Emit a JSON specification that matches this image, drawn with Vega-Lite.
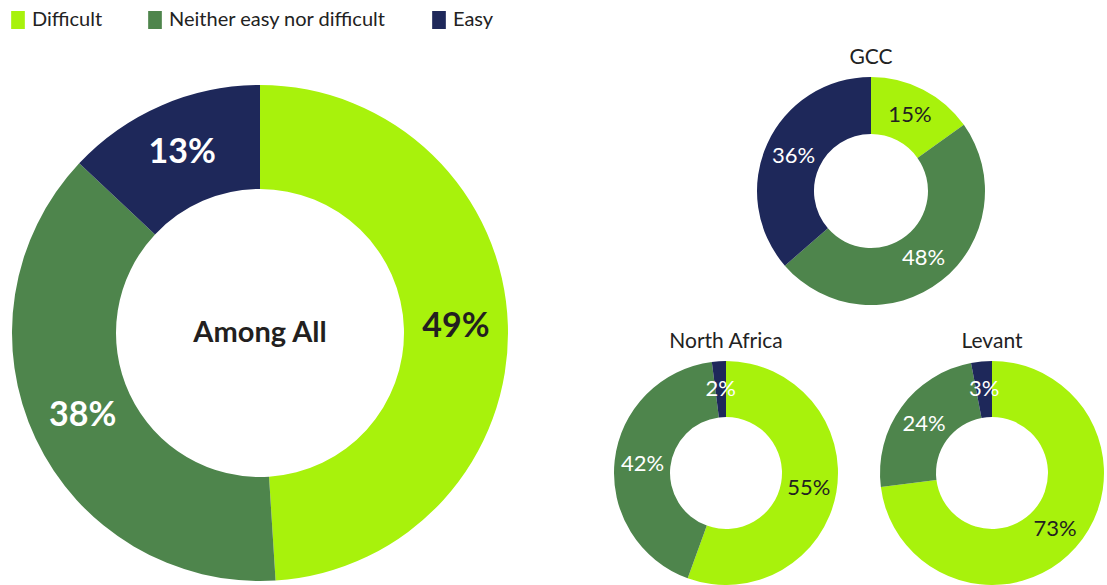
{
  "$schema": "https://vega.github.io/schema/vega-lite/v6.json",
  "padding": {"top": 10, "left": 0, "right": 0, "bottom": 0},
  "background": "white",
  "datasets": {
    "d": [
      {"region": "Among All", "cat": "Difficult", "k": 1, "v": 0.49},
      {"region": "Among All", "cat": "Neither easy nor difficult", "k": 2, "v": 0.38},
      {"region": "Among All", "cat": "Easy", "k": 3, "v": 0.13},
      {"region": "GCC", "cat": "Difficult", "k": 1, "v": 0.15},
      {"region": "GCC", "cat": "Neither easy nor difficult", "k": 2, "v": 0.48},
      {"region": "GCC", "cat": "Easy", "k": 3, "v": 0.36},
      {"region": "North Africa", "cat": "Difficult", "k": 1, "v": 0.55},
      {"region": "North Africa", "cat": "Neither easy nor difficult", "k": 2, "v": 0.42},
      {"region": "North Africa", "cat": "Easy", "k": 3, "v": 0.02},
      {"region": "Levant", "cat": "Difficult", "k": 1, "v": 0.73},
      {"region": "Levant", "cat": "Neither easy nor difficult", "k": 2, "v": 0.24},
      {"region": "Levant", "cat": "Easy", "k": 3, "v": 0.03}
    ]
  },
  "config": {
    "view": {"stroke": null},
    "font": "Lato",
    "title": {"fontSize": 21, "fontWeight": "normal", "color": "#222222", "offset": 9, "anchor": "middle", "font": "Lato"}
  },
  "bounds": "flush",
  "spacing": 115,
  "resolve": {"scale": {"theta": "independent", "color": "shared"}},
  "hconcat": [
    {
      "width": 520,
      "height": 504,
      "data": {"name": "d"},
      "transform": [{"filter": "datum.region === 'Among All'"}],
      "resolve": {"scale": {"theta": "shared"}},
      "layer": [
        {
          "mark": {"type": "arc", "outerRadius": 248, "innerRadius": 144},
          "encoding": {
            "theta": {"field": "v", "type": "quantitative", "stack": true},
            "order": {"field": "k", "type": "ordinal"},
            "color": {
              "field": "cat", "type": "nominal",
              "scale": {"domain": ["Difficult", "Neither easy nor difficult", "Easy"], "range": ["#A8F20C", "#4E854C", "#1E285A"]},
              "legend": {"title": null, "orient": "none", "legendX": 8, "legendY": -71, "direction": "horizontal", "symbolType": "M-0.76,-1H0.76V1H-0.76Z", "symbolSize": 324, "symbolStrokeWidth": 0, "labelFontSize": 20, "labelColor": "#222222", "labelFont": "Lato", "labelOffset": 4, "labelLimit": 500, "columnPadding": 42}
            }
          }
        },
        {
          "mark": {"type": "text", "radius": 196, "fontSize": 34, "fontWeight": "bold"},
          "encoding": {
            "theta": {"field": "v", "type": "quantitative", "stack": true},
            "order": {"field": "k", "type": "ordinal"},
            "detail": {"field": "cat", "type": "nominal"},
            "text": {"field": "v", "type": "quantitative", "format": ".0%"},
            "color": {"condition": {"test": "datum.cat === 'Difficult'", "value": "#231F20"}, "value": "#FFFFFF"}
          }
        },
        {
          "transform": [{"aggregate": [{"op": "count", "as": "n"}], "groupby": ["region"]}],
          "mark": {"type": "text", "fontSize": 29, "fontWeight": "bold", "color": "#231F20"},
          "encoding": {"text": {"field": "region", "type": "nominal"}}
        }
      ]
    },
    {
      "bounds": "flush",
      "spacing": 60,
      "resolve": {"scale": {"theta": "independent", "color": "shared"}},
      "vconcat": [
        {
          "width": 472,
          "height": 220,
          "title": {"text": "GCC"},
          "data": {"name": "d"},
          "transform": [{"filter": "datum.region === 'GCC'"}],
          "layer": [
            {
              "mark": {"type": "arc", "outerRadius": 114, "innerRadius": 57},
              "encoding": {
                "theta": {"field": "v", "type": "quantitative", "stack": true},
                "order": {"field": "k", "type": "ordinal"},
                "color": {
                  "field": "cat", "type": "nominal",
                  "scale": {"domain": ["Difficult", "Neither easy nor difficult", "Easy"], "range": ["#A8F20C", "#4E854C", "#1E285A"]},
                  "legend": {"title": null, "orient": "none", "legendX": 8, "legendY": -71, "direction": "horizontal", "symbolType": "M-0.76,-1H0.76V1H-0.76Z", "symbolSize": 324, "symbolStrokeWidth": 0, "labelFontSize": 20, "labelColor": "#222222", "labelFont": "Lato", "labelOffset": 4, "labelLimit": 500, "columnPadding": 42}
                }
              }
            },
            {
              "mark": {"type": "text", "radius": 85, "fontSize": 22},
              "encoding": {
                "theta": {"field": "v", "type": "quantitative", "stack": true},
                "order": {"field": "k", "type": "ordinal"},
                "detail": {"field": "cat", "type": "nominal"},
                "text": {"field": "v", "type": "quantitative", "format": ".0%"},
                "color": {"condition": {"test": "datum.cat === 'Difficult'", "value": "#231F20"}, "value": "#FFFFFF"}
              }
            }
          ]
        },
        {
          "bounds": "flush",
          "spacing": 75,
          "resolve": {"scale": {"theta": "independent", "color": "shared"}},
          "hconcat": [
            {
              "width": 182,
              "height": 224,
              "title": {"text": "North Africa"},
              "data": {"name": "d"},
              "transform": [{"filter": "datum.region === 'North Africa'"}],
              "layer": [
                {
                  "mark": {"type": "arc", "outerRadius": 112, "innerRadius": 56},
                  "encoding": {
                    "theta": {"field": "v", "type": "quantitative", "stack": true},
                    "order": {"field": "k", "type": "ordinal"},
                    "color": {
                      "field": "cat", "type": "nominal",
                      "scale": {"domain": ["Difficult", "Neither easy nor difficult", "Easy"], "range": ["#A8F20C", "#4E854C", "#1E285A"]},
                      "legend": {"title": null, "orient": "none", "legendX": 8, "legendY": -71, "direction": "horizontal", "symbolType": "M-0.76,-1H0.76V1H-0.76Z", "symbolSize": 324, "symbolStrokeWidth": 0, "labelFontSize": 20, "labelColor": "#222222", "labelFont": "Lato", "labelOffset": 4, "labelLimit": 500, "columnPadding": 42}
                    }
                  }
                },
                {
                  "mark": {"type": "text", "radius": 84, "fontSize": 22},
                  "encoding": {
                    "theta": {"field": "v", "type": "quantitative", "stack": true},
                    "order": {"field": "k", "type": "ordinal"},
                    "detail": {"field": "cat", "type": "nominal"},
                    "text": {"field": "v", "type": "quantitative", "format": ".0%"},
                    "color": {"condition": {"test": "datum.cat === 'Difficult'", "value": "#231F20"}, "value": "#FFFFFF"}
                  }
                }
              ]
            },
            {
              "width": 200,
              "height": 224,
              "title": {"text": "Levant"},
              "data": {"name": "d"},
              "transform": [{"filter": "datum.region === 'Levant'"}],
              "layer": [
                {
                  "mark": {"type": "arc", "outerRadius": 112, "innerRadius": 56},
                  "encoding": {
                    "theta": {"field": "v", "type": "quantitative", "stack": true},
                    "order": {"field": "k", "type": "ordinal"},
                    "color": {
                      "field": "cat", "type": "nominal",
                      "scale": {"domain": ["Difficult", "Neither easy nor difficult", "Easy"], "range": ["#A8F20C", "#4E854C", "#1E285A"]},
                      "legend": {"title": null, "orient": "none", "legendX": 8, "legendY": -71, "direction": "horizontal", "symbolType": "M-0.76,-1H0.76V1H-0.76Z", "symbolSize": 324, "symbolStrokeWidth": 0, "labelFontSize": 20, "labelColor": "#222222", "labelFont": "Lato", "labelOffset": 4, "labelLimit": 500, "columnPadding": 42}
                    }
                  }
                },
                {
                  "mark": {"type": "text", "radius": 84, "fontSize": 22},
                  "encoding": {
                    "theta": {"field": "v", "type": "quantitative", "stack": true},
                    "order": {"field": "k", "type": "ordinal"},
                    "detail": {"field": "cat", "type": "nominal"},
                    "text": {"field": "v", "type": "quantitative", "format": ".0%"},
                    "color": {"condition": {"test": "datum.cat === 'Difficult'", "value": "#231F20"}, "value": "#FFFFFF"}
                  }
                }
              ]
            }
          ]
        }
      ]
    }
  ]
}
